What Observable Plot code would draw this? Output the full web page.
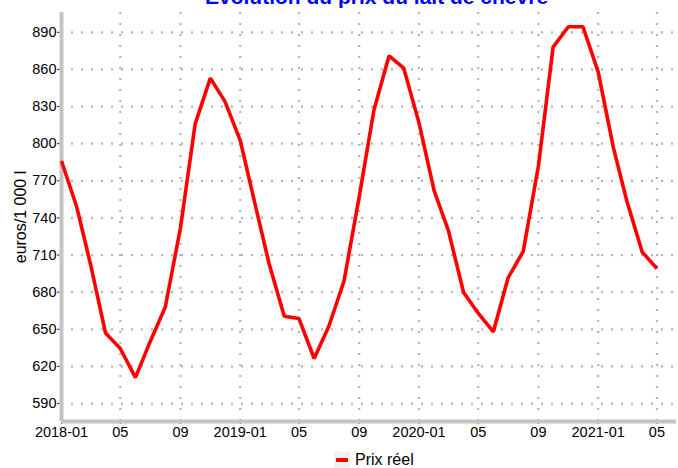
<!DOCTYPE html>
<html>
<head>
<meta charset="utf-8">
<script src="https://cdn.jsdelivr.net/npm/d3@7"></script>
<script src="https://cdn.jsdelivr.net/npm/@observablehq/plot@0.6"></script>
<style>
  html, body { margin: 0; padding: 0; background: #fff; overflow: hidden; }
  body { width: 678px; height: 468px; font-family: "Liberation Sans", Arial, sans-serif; }
  #wrap { position: relative; width: 678px; height: 468px; }
  #title { position: absolute; z-index: 2; top: -14px; left: 205px; white-space: nowrap; font-size: 21px; line-height: 21px; font-weight: bold; color: #0000ff; }
  #chart { position: absolute; top: 0; left: 0; z-index: 1; }
  #legend { position: absolute; top: 451px; left: 334px; display: flex; align-items: center; font-size: 16px; color: #000; }
  #legend .sw { width: 16px; height: 16px; background: #f0f0f0; position: relative; margin-right: 5px; }
  #legend .sw i { position: absolute; left: 2px; top: 6px; width: 12px; height: 4px; background: #ff0000; }
</style>
</head>
<body>
<div id="wrap">
  <div id="chart"></div>
  <div id="title">Evolution du prix du lait de chèvre</div>
  <div id="legend"><span class="sw"><i></i></span><span>Prix réel</span></div>
</div>
<script>
const months = [
  "2018-01","2018-02","2018-03","2018-04","2018-05","2018-06","2018-07","2018-08","2018-09","2018-10","2018-11","2018-12",
  "2019-01","2019-02","2019-03","2019-04","2019-05","2019-06","2019-07","2019-08","2019-09","2019-10","2019-11","2019-12",
  "2020-01","2020-02","2020-03","2020-04","2020-05","2020-06","2020-07","2020-08","2020-09","2020-10","2020-11","2020-12",
  "2021-01","2021-02","2021-03","2021-04","2021-05"
];
const prices = [
  786, 749, 703, 647, 634.5, 611, 640, 668, 732, 816, 853, 834,
  802.6, 750, 703, 660.5, 658.7, 626.4, 652.5, 689, 757, 827, 871, 861,
  817, 762, 730, 680, 663, 648, 691.5, 713, 782, 878, 894.5, 894.5,
  858, 797, 753, 712.5, 699
];
const yTicks = [590, 620, 650, 680, 710, 740, 770, 800, 830, 860, 890];
const xTickLabels = ["2018-01","2018-05","2018-09","2019-01","2019-05","2019-09","2020-01","2020-05","2020-09","2021-01","2021-05"];
const seriesName = "Prix réel";

const parse = d3.utcParse("%Y-%m");
const data = months.map((m, i) => ({date: parse(m), value: prices[i], series: seriesName}));
const xTicks = xTickLabels.map(parse);
const xDomain = [parse("2018-01"), d3.utcDay.offset(parse("2021-06"), 9)];
const yDomain = [575.5, 906];
const fmt = d => d.getUTCMonth() === 0 ? d3.utcFormat("%Y-%m")(d) : d3.utcFormat("%m")(d);

const chart = Plot.plot({
  width: 678,
  height: 445,
  marginLeft: 61,
  marginRight: 2,
  marginTop: 12,
  marginBottom: 24,
  style: {fontFamily: "'Liberation Sans', Arial, sans-serif", background: "transparent", color: "#000"},
  x: {type: "utc", domain: xDomain},
  y: {domain: yDomain},
  marks: [
    Plot.gridY(yTicks, {stroke: "#b4b4b4", strokeOpacity: 1, strokeWidth: 2.2, strokeDasharray: "2,8"}),
    Plot.gridX(xTicks, {stroke: "#b4b4b4", strokeOpacity: 1, strokeWidth: 2.2, strokeDasharray: "2,9"}),
    Plot.axisY(yTicks, {tickSize: 4, tickPadding: 1, fontSize: 14.5, label: null, stroke: "#333"}),
    Plot.axisY({fontSize: 16, ticks: [], tickSize: 0, label: "euros/1 000 l", labelAnchor: "center", labelOffset: 47, labelArrow: "none"}),
    Plot.axisX(xTicks, {tickSize: 3, tickPadding: 2, fontSize: 14.5, tickFormat: fmt, label: null, stroke: "#333"}),
    Plot.ruleX([xDomain[0]], {stroke: "#c4c4c4", strokeWidth: 4}),
    Plot.ruleY([yDomain[0]], {stroke: "#c4c4c4", strokeWidth: 4}),
    Plot.line(data, {x: "date", y: "value", stroke: "#ff0000", strokeWidth: 3.6, strokeLinejoin: "miter", strokeLinecap: "butt"})
  ]
});
document.getElementById("chart").appendChild(chart);
</script>
</body>
</html>
